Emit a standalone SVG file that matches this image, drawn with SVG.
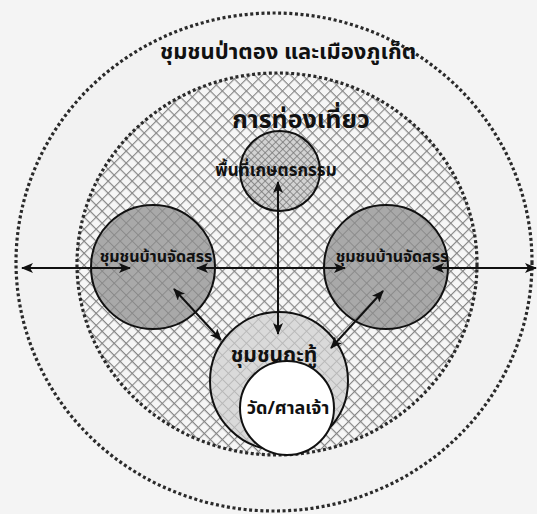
<svg xmlns="http://www.w3.org/2000/svg" width="537" height="514" viewBox="0 0 537 514">
<style>
.t{font-family:"Noto Sans Thai","Noto Sans","DejaVu Sans",sans-serif;font-weight:bold;fill:#111;text-anchor:middle}
.dot{stroke:#2a2a2a;stroke-width:3.2;stroke-dasharray:3 2.6}
.ring{stroke:#111;stroke-width:2}
.ln{stroke:#111;stroke-width:2;fill:none;marker-start:url(#ah);marker-end:url(#ah)}
</style>
<defs>
<pattern id="hx" width="8.5" height="8.5" patternUnits="userSpaceOnUse" patternTransform="rotate(45)">
<rect width="8.5" height="8.5" fill="#f6f6f6"/>
<path d="M0 0H8.5M0 0V8.5" stroke="#858585" stroke-width="2.2"/>
</pattern>
<pattern id="hg" width="8.5" height="8.5" patternUnits="userSpaceOnUse" patternTransform="rotate(45)">
<rect width="8.5" height="8.5" fill="#a9a9a9"/>
<path d="M0 0H8.5M0 0V8.5" stroke="#8a8a8a" stroke-width="2"/>
</pattern>
<pattern id="hl" width="8.5" height="8.5" patternUnits="userSpaceOnUse" patternTransform="rotate(45)">
<rect width="8.5" height="8.5" fill="#dadada"/>
<path d="M0 0H8.5M0 0V8.5" stroke="#b8b8b8" stroke-width="2"/>
</pattern>
<pattern id="hs" width="5" height="5" patternUnits="userSpaceOnUse" patternTransform="rotate(45)">
<rect width="5" height="5" fill="#d2d2d2"/>
<path d="M0 0H5M0 0V5" stroke="#777" stroke-width="1.5"/>
</pattern>
<marker id="ah" viewBox="0 0 12 10" refX="11" refY="5" markerWidth="12" markerHeight="10" markerUnits="userSpaceOnUse" orient="auto-start-reverse">
<path d="M0 0L12 5L0 10L3 5Z" fill="#111"/>
</marker>
</defs>
<rect width="537" height="514" fill="#f4f4f4"/>
<g id="outer">
<ellipse cx="274" cy="262" rx="258" ry="249" fill="#f2f2f2" class="dot"/>
<text class="t" x="288" y="59" font-size="22">ชุมชนป่าตอง และเมืองภูเก็ต</text>
</g>
<g id="tourism">
<ellipse cx="277" cy="264" rx="200" ry="191" fill="url(#hx)" class="dot"/>
<text class="t" x="301" y="128" font-size="25">การท่องเที่ยว</text>
</g>
<g id="agri">
<circle cx="280" cy="171" r="40" fill="url(#hs)" class="ring"/>
<text class="t" x="276" y="176" font-size="17">พื้นที่เกษตรกรรม</text>
</g>
<g id="housing-left">
<circle cx="153" cy="267" r="62" fill="url(#hg)" class="ring"/>
<text class="t" x="156" y="262" font-size="16">ชุมชนบ้านจัดสรร</text>
</g>
<g id="housing-right">
<circle cx="386" cy="267" r="62" fill="url(#hg)" class="ring"/>
<text class="t" x="392" y="262" font-size="16">ชุมชนบ้านจัดสรร</text>
</g>
<g id="kathu">
<circle cx="279" cy="381" r="69" fill="url(#hl)" class="ring"/>
<text class="t" x="274" y="362" font-size="21">ชุมชนกะทู้</text>
</g>
<g id="temple">
<circle cx="287" cy="408" r="47" fill="#ffffff" class="ring"/>
<text class="t" x="288" y="414" font-size="18">วัด/ศาลเจ้า</text>
</g>
<g id="connectors">
<line class="ln" x1="22" y1="268" x2="130" y2="268"/>
<line class="ln" x1="197" y1="268" x2="345" y2="268"/>
<line class="ln" x1="433" y1="268" x2="536" y2="268"/>
<line class="ln" x1="278" y1="182" x2="278" y2="334"/>
<line class="ln" x1="174" y1="289" x2="221" y2="340"/>
<line class="ln" x1="383" y1="291" x2="331" y2="348"/>
</g>
</svg>
